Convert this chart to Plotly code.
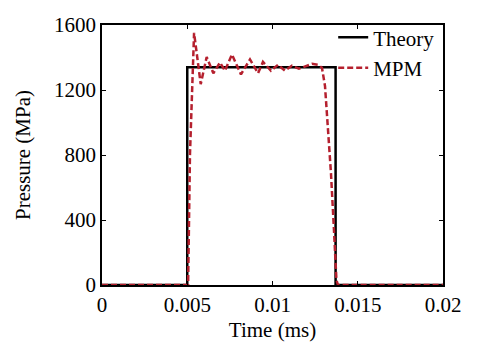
import plotly.graph_objects as go

theory_t = [0, 0.005, 0.005, 0.0137, 0.0137, 0.02]
theory_p = [0, 0, 1340, 1340, 0, 0]

mpm_t = [0, 0.00505, 0.00516, 0.00528, 0.0054, 0.00579, 0.00614, 0.00653, 0.00692,
         0.00721, 0.00762, 0.00815, 0.00868, 0.00915, 0.00944, 0.00991, 0.01032,
         0.01073, 0.01114, 0.01155, 0.0119, 0.01232, 0.01267, 0.0129, 0.01308,
         0.01325, 0.01343, 0.01361, 0.01375, 0.01384, 0.02]
mpm_p = [0, 0, 806, 1194, 1552, 1236, 1403, 1303, 1369,
         1319, 1419, 1296, 1388, 1303, 1373, 1319, 1355,
         1319, 1349, 1331, 1343, 1361, 1355, 1337, 1224,
         985, 687, 328, 30, 0, 0]

x_ticks = [0, 0.005, 0.01, 0.015, 0.02]
x_labels = ["0", "0.005", "0.01", "0.015", "0.02"]
y_ticks = [0, 400, 800, 1200, 1600]

font = dict(family="Times New Roman", size=21, color="black")

fig = go.Figure()
fig.add_trace(go.Scatter(x=theory_t, y=theory_p, mode="lines", name="Theory",
                         line=dict(color="black", width=2.5)))
fig.add_trace(go.Scatter(x=mpm_t, y=mpm_p, mode="lines", name="MPM",
                         line=dict(color="#B5202E", width=2.5, dash="6px,3px")))

axis_common = dict(showline=True, linecolor="black", linewidth=1.5, mirror="ticks",
                   ticks="inside", ticklen=4, tickwidth=1, tickcolor="black",
                   showgrid=False, zeroline=False, tickfont=font, automargin=False)

# page body has an 8px margin, so the figure is sized/margined to compensate
fig.update_layout(
    width=469, height=343,
    margin=dict(l=94, r=34, t=9, b=66),
    paper_bgcolor="white", plot_bgcolor="white",
    font=font,
    xaxis=dict(range=[0, 0.02], tickvals=x_ticks, ticktext=x_labels,
               title=dict(text="Time (ms)", font=font, standoff=6), **axis_common),
    yaxis=dict(range=[0, 1600], tickvals=y_ticks,
               title=dict(text="Pressure (MPa)", font=font, standoff=18), **axis_common),
    legend=dict(x=0.678, y=1.03, xanchor="left", yanchor="top", bgcolor="rgba(0,0,0,0)",
                font=font, tracegroupgap=0, itemwidth=30),
    showlegend=True,
)

fig.write_html("out.html")
